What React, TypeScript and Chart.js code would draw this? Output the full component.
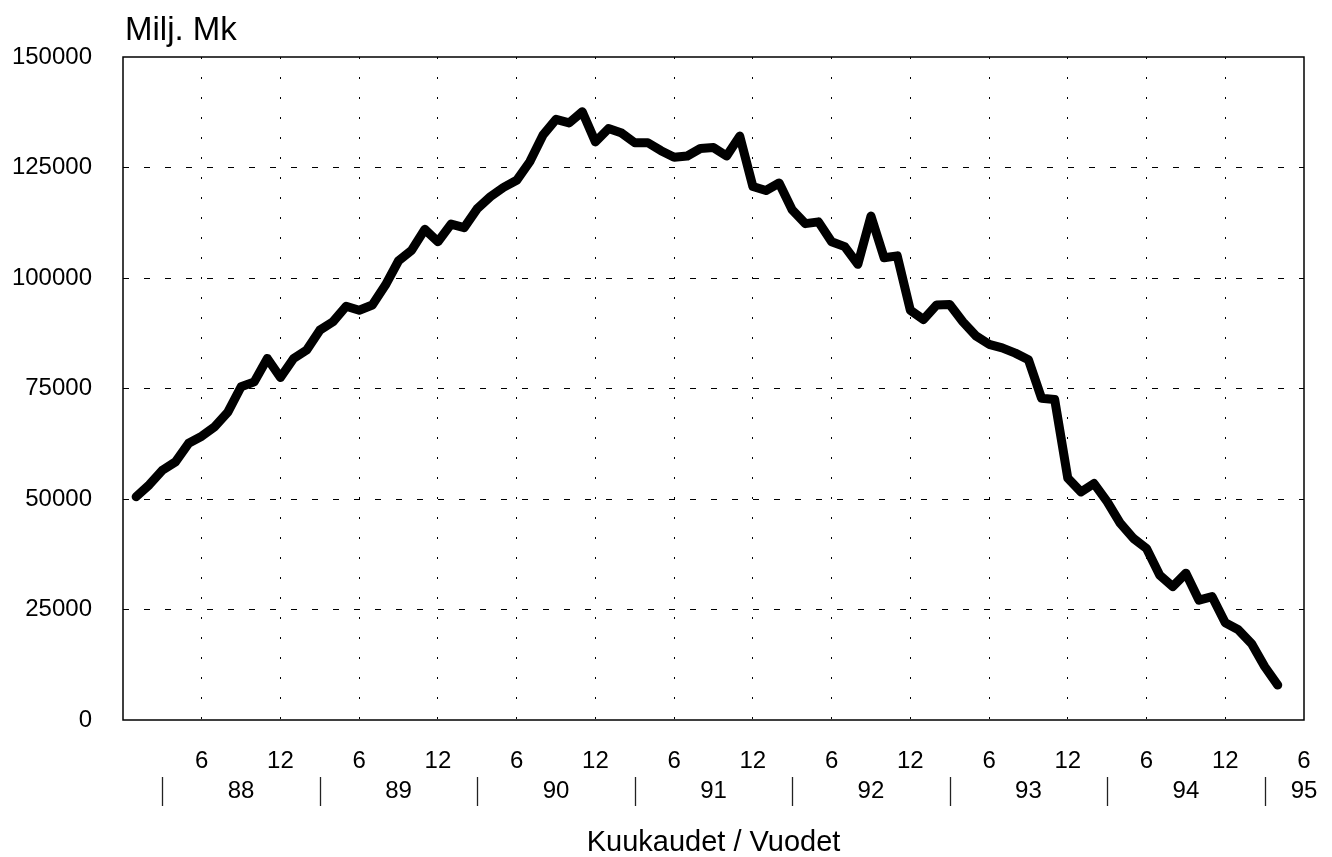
import React, { useEffect, useRef } from 'react';
import { Chart, registerables } from 'chart.js';

Chart.register(...registerables);

// Month index (1 = Jan 1988)
const MONTHS = [
  1, 2, 3, 4, 5, 6, 7, 8, 9, 10, 11, 12,
  13, 14, 15, 16, 17, 18, 19, 20, 21, 22, 23, 24,
  25, 26, 27, 28, 29, 30, 31, 32, 33, 34, 35, 36,
  37, 38, 39, 40, 41, 42, 43, 44, 45, 46, 47, 48,
  49, 50, 51, 52, 53, 54, 55, 56, 57, 58, 59, 60,
  61, 62, 63, 64, 65, 66, 67, 68, 69, 70, 71, 72,
  73, 74, 75, 76, 77, 78, 79, 80, 81, 82, 83, 84,
  85, 86, 87, 88,
];

// Milj. Mk
const VALUES = [
  50500, 53200, 56500, 58400, 62600, 64200, 66400, 69700, 75400, 76500, 81800, 77500,
  81800, 83700, 88200, 90100, 93600, 92700, 93900, 98400, 103900, 106300, 111000, 108200,
  112200, 111400, 115700, 118400, 120500, 122100, 126300, 132300, 135900, 135100, 137600, 130800,
  133800, 132800, 130600, 130600, 128800, 127300, 127600, 129300, 129500, 127600, 132100, 120700,
  119800, 121500, 115400, 112300, 112700, 108200, 107100, 103100, 114000, 104600, 105000, 92700,
  90600, 93900, 94000, 90100, 86900, 85000, 84200, 83000, 81500, 72800, 72500, 54700,
  51600, 53500, 49400, 44500, 41100, 38800, 32800, 30200, 33200, 27100, 27900, 22000,
  20400, 17300, 12100, 7900,
];

const Y_TICKS = [0, 25000, 50000, 75000, 100000, 125000, 150000];
const X_TICK_VALUES = [0, 6, 12, 18, 24, 30, 36, 42, 48, 54, 60, 66, 72, 78, 84, 90];
const X_TICK_LABELS = ['', '6', '12', '6', '12', '6', '12', '6', '12', '6', '12', '6', '12', '6', '12', '6'];
const YEAR_POS = [9, 21, 33, 45, 57, 69, 81, 90];
const YEAR_LABELS = ['88', '89', '90', '91', '92', '93', '94', '95'];
const SEPARATOR_POS = [3, 15, 27, 39, 51, 63, 75, 87];

const TITLE = 'Milj. Mk';
const X_TITLE = 'Kuukaudet / Vuodet';
const FONT = "'Liberation Sans', Arial, Helvetica, sans-serif";

const decorPlugin = {
  id: 'decor',
  afterDraw(chart: any) {
    const { ctx, chartArea } = chart;
    const xs = chart.scales.x;
    ctx.save();
    // frame
    ctx.strokeStyle = '#000';
    ctx.lineWidth = 1.5;
    ctx.setLineDash([]);
    ctx.strokeRect(chartArea.left, chartArea.top, chartArea.right - chartArea.left, chartArea.bottom - chartArea.top);
    // year separators
    ctx.lineWidth = 1.3;
    ctx.strokeStyle = '#222';
    for (const p of SEPARATOR_POS) {
      const x = Math.round(xs.getPixelForValue(p)) + 0.5;
      ctx.beginPath();
      ctx.moveTo(x, chartArea.bottom + 57);
      ctx.lineTo(x, chartArea.bottom + 86);
      ctx.stroke();
    }
    // unit title
    ctx.fillStyle = '#000';
    ctx.font = `33px ${FONT}`;
    ctx.textAlign = 'left';
    ctx.textBaseline = 'alphabetic';
    ctx.fillText(TITLE, chartArea.left + 2, 40);
    ctx.restore();
  },
};

export default function App() {
  const ref = useRef<HTMLCanvasElement | null>(null);

  useEffect(() => {
    document.body.style.margin = '0';
    const canvas = ref.current;
    if (!canvas) return;
    const data = MONTHS.map((m, i) => ({ x: m, y: VALUES[i] }));
    const edgeColorX = (c: any) =>
      c.tick && (c.tick.value === 0 || c.tick.value === 90) ? 'rgba(0,0,0,0)' : '#000';
    const edgeColorY = (c: any) =>
      c.tick && (c.tick.value === 0 || c.tick.value === 150000) ? 'rgba(0,0,0,0)' : '#000';

    const chart = new Chart(canvas, {
      type: 'line',
      data: {
        datasets: [
          {
            data,
            borderColor: '#000',
            borderWidth: 9,
            borderJoinStyle: 'round',
            borderCapStyle: 'round',
            pointRadius: 0,
            tension: 0,
            fill: false,
          },
        ],
      },
      options: {
        animation: false,
        responsive: false,
        devicePixelRatio: 1,
        layout: { padding: { top: 57, right: 28, left: 0, bottom: 0 } },
        plugins: { legend: { display: false }, tooltip: { enabled: false }, title: { display: false } },
        scales: {
          x: {
            type: 'linear',
            position: 'bottom',
            min: 0,
            max: 90,
            afterBuildTicks: (s: any) => {
              s.ticks = X_TICK_VALUES.map((v) => ({ value: v }));
            },
            afterFit: (s: any) => {
              s.height = 55;
              s.paddingLeft = 0;
              s.paddingRight = 0;
            },
            ticks: {
              autoSkip: false,
              maxRotation: 0,
              minRotation: 0,
              padding: 27,
              color: '#000',
              font: { family: FONT, size: 24 },
              callback: (_v: any, i: number) => X_TICK_LABELS[i],
            },
            grid: {
              color: edgeColorX,
              lineWidth: 1,
              drawTicks: false,
              borderDash: [2, 18],
            } as any,
            border: { display: false, dash: [2, 18] },
          },
          x2: {
            type: 'linear',
            position: 'bottom',
            min: 0,
            max: 90,
            afterBuildTicks: (s: any) => {
              s.ticks = YEAR_POS.map((v) => ({ value: v }));
            },
            afterFit: (s: any) => {
              s.height = 82;
              s.paddingLeft = 0;
              s.paddingRight = 0;
            },
            ticks: {
              autoSkip: false,
              maxRotation: 0,
              minRotation: 0,
              padding: 2,
              color: '#000',
              font: { family: FONT, size: 24 },
              callback: (_v: any, i: number) => YEAR_LABELS[i],
            },
            grid: { display: false, drawTicks: false },
            border: { display: false },
            title: {
              display: true,
              text: X_TITLE,
              color: '#000',
              font: { family: FONT, size: 29, lineHeight: 1 },
              padding: { top: 0, bottom: 0 },
            },
          },
          y: {
            type: 'linear',
            min: 0,
            max: 150000,
            afterBuildTicks: (s: any) => {
              s.ticks = Y_TICKS.map((v) => ({ value: v }));
            },
            afterFit: (s: any) => {
              s.width = 123;
            },
            ticks: {
              padding: 31,
              color: '#000',
              font: { family: FONT, size: 24 },
              callback: (v: any) => String(v),
            },
            grid: {
              color: edgeColorY,
              lineWidth: 1,
              drawTicks: false,
              borderDash: [6, 15],
            } as any,
            border: { display: false, dash: [6, 15] },
          },
        },
      } as any,
      plugins: [decorPlugin],
    });
    return () => chart.destroy();
  }, []);

  return (
    <div style={{ width: 1332, height: 857, background: '#fff' }}>
      <canvas ref={ref} width={1332} height={857} style={{ display: 'block', width: 1332, height: 857 }} />
    </div>
  );
}
